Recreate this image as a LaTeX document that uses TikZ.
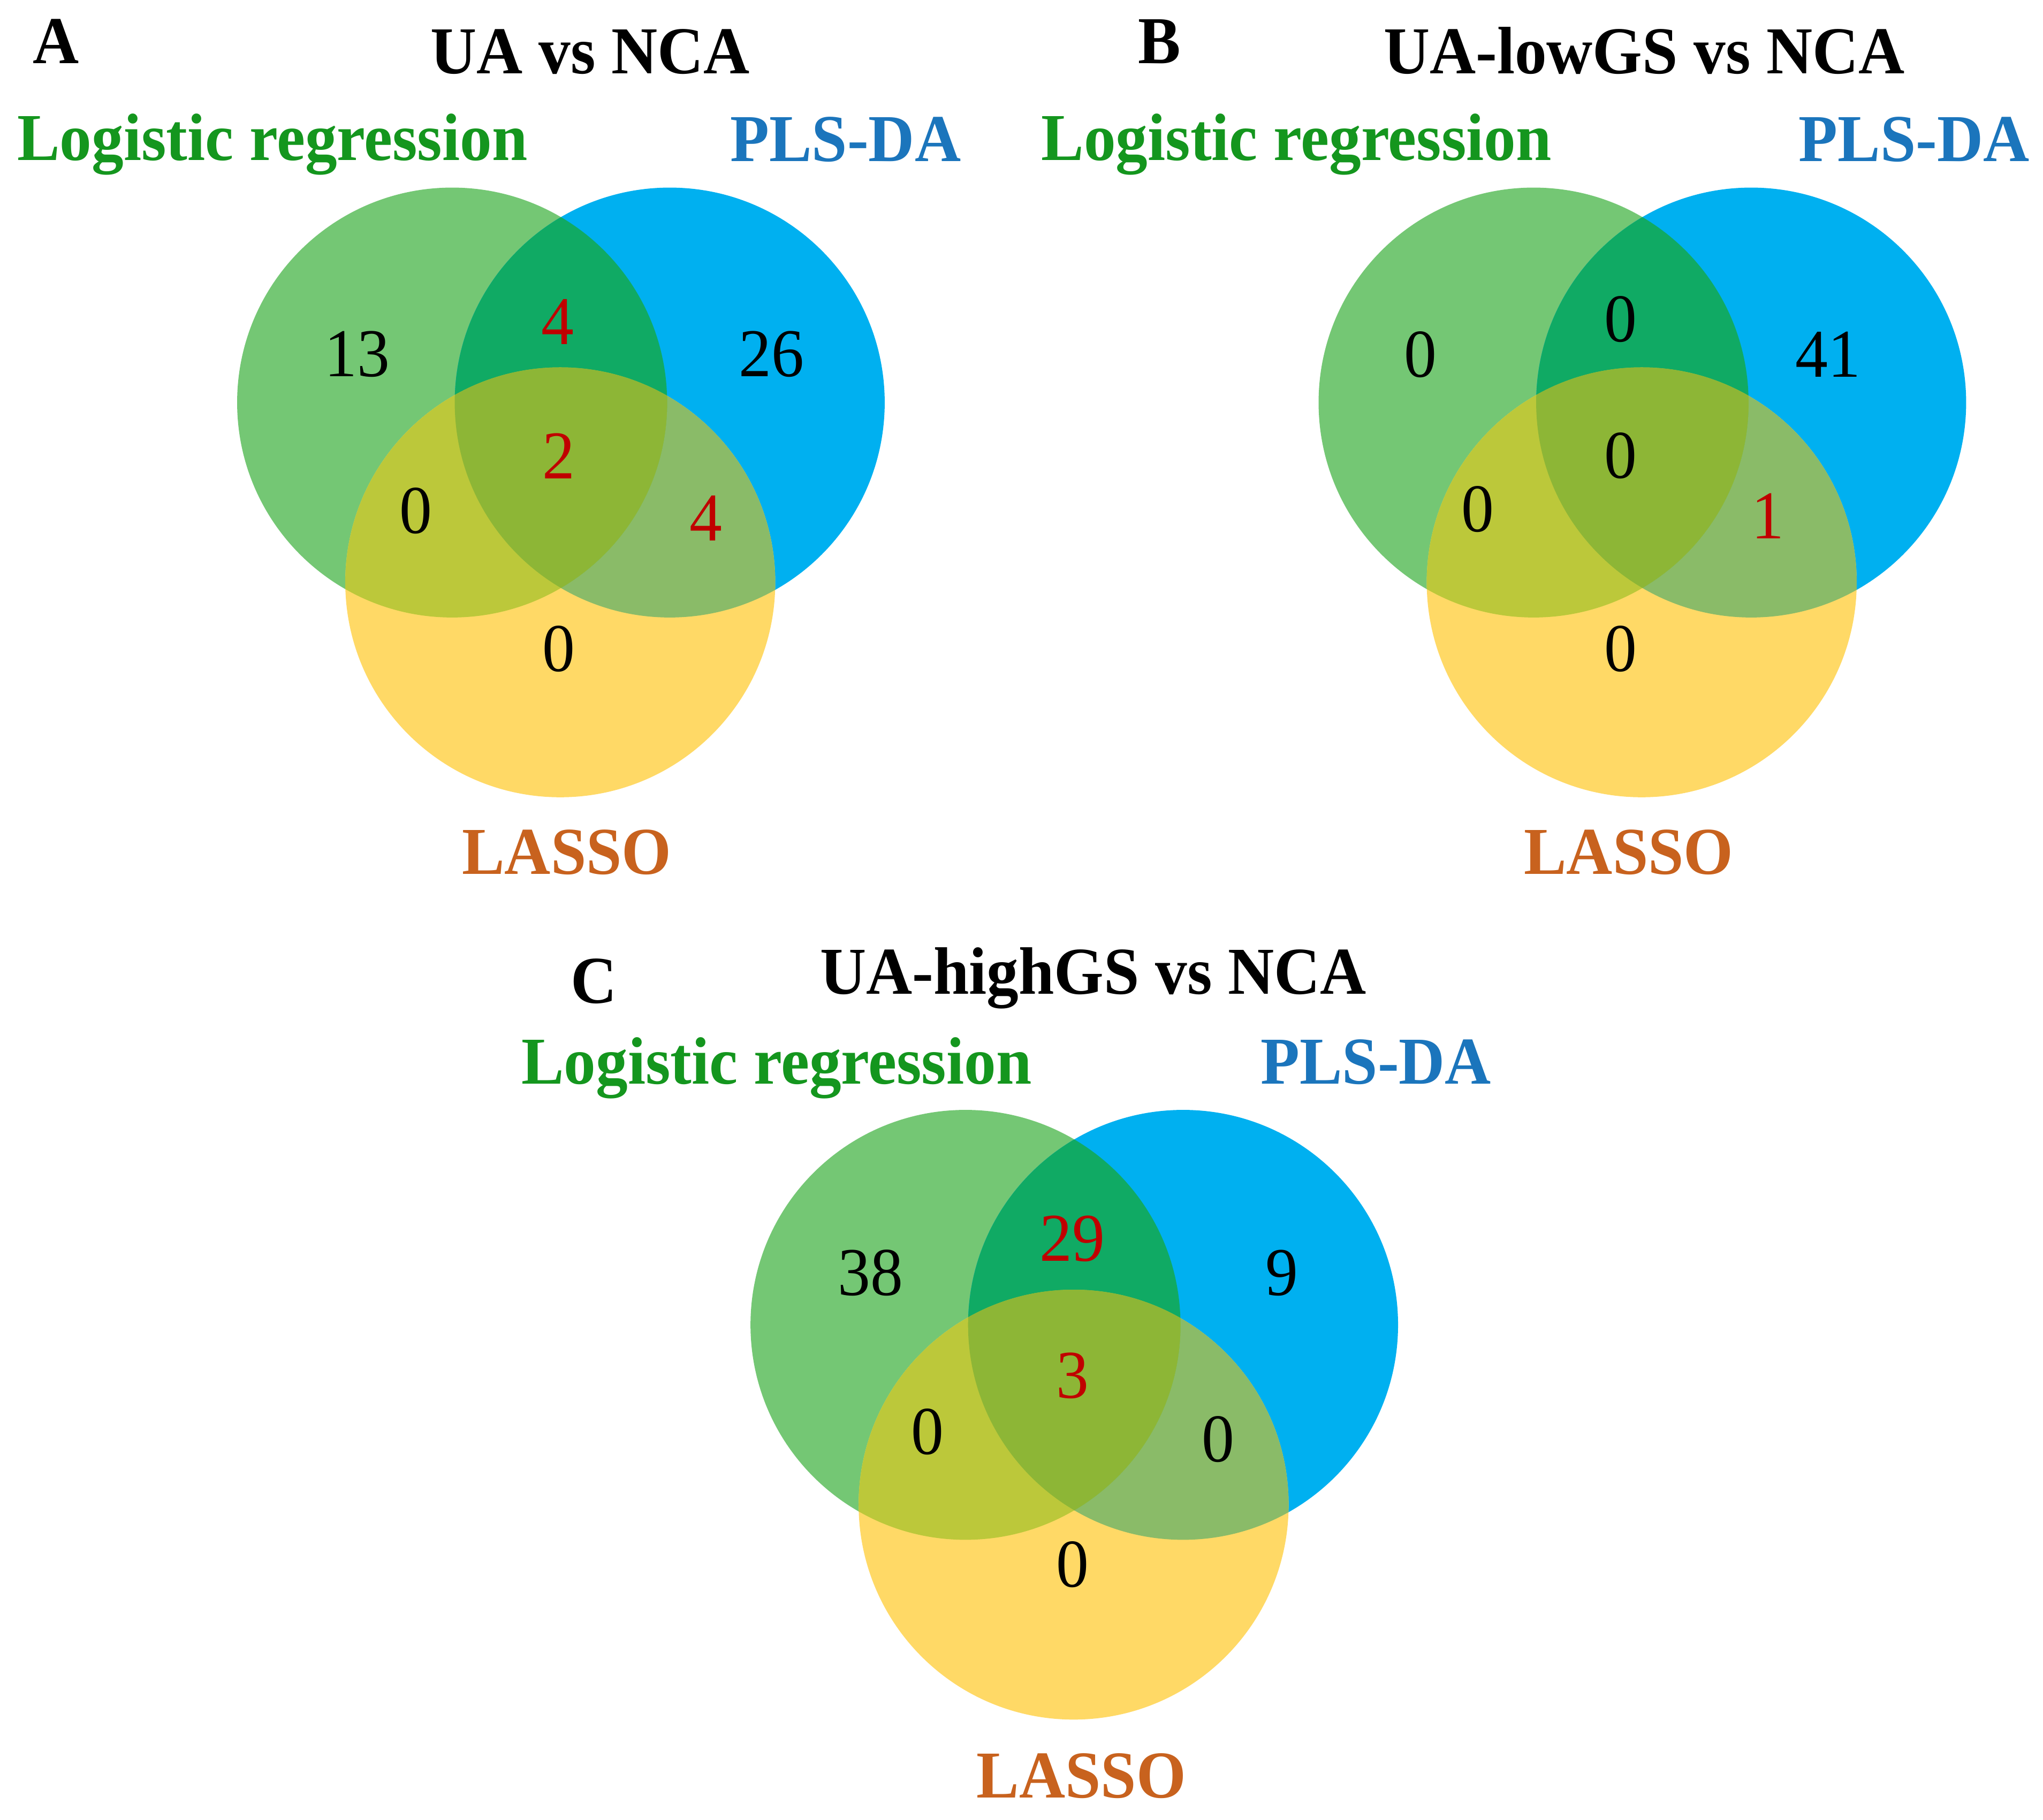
\documentclass[tikz,border=0pt]{standalone}
\usepackage{fontspec}
\setmainfont{Liberation Serif}
\definecolor{cG}{HTML}{74C774}
\definecolor{cB}{HTML}{00B0F0}
\definecolor{cY}{HTML}{FFD966}
\definecolor{cGB}{HTML}{10AA64}
\definecolor{cGY}{HTML}{BCC83A}
\definecolor{cBY}{HTML}{8ABB68}
\definecolor{cGBY}{HTML}{8DB636}
\definecolor{cRed}{HTML}{C00000}
\definecolor{cLR}{HTML}{14961E}
\definecolor{cPLS}{HTML}{1B75BC}
\definecolor{cLAS}{HTML}{C8621E}
\newcommand{\myvenn}[3]{%
  \fill[cG] (#1) circle[radius=82.5pt];
  \fill[cB] (#2) circle[radius=82.5pt];
  \fill[cY] (#3) circle[radius=82.5pt];
  \begin{scope}
    \clip (#2) circle[radius=82.5pt];
    \fill[cBY] (#3) circle[radius=82.5pt];
  \end{scope}
  \begin{scope}
    \clip (#1) circle[radius=82.5pt];
    \fill[cGB] (#2) circle[radius=82.5pt];
    \fill[cGY] (#3) circle[radius=82.5pt];
    \clip (#2) circle[radius=82.5pt];
    \fill[cGBY] (#3) circle[radius=82.5pt];
  \end{scope}}
\tikzset{
  bold/.style={font=\bfseries\fontsize{24.5}{28}\selectfont, anchor=base, inner sep=0pt, yscale=1.05},
  letter/.style={bold},
  ttl/.style={bold},
  lrlab/.style={bold, text=cLR},
  plslab/.style={bold, text=cPLS},
  laslab/.style={bold, text=cLAS},
  num/.style={font=\fontsize{25}{30}\selectfont, inner sep=0pt, anchor=center, yscale=1.05},
  numr/.style={num, text=cRed}
}
\begin{document}
\begin{tikzpicture}[x=0.5pt,y=-0.5pt]
\useasboundingbox (0,0) rectangle (1568,1397);
\fill[white] (0,0) rectangle (1568,1397);

% ---------- Panel A ----------
\myvenn{347,309}{514,309}{430,447}
\node[letter] (Alet) at (43,48.5) {A};
\node[ttl] (Attl) at (453,56.5) {UA vs NCA};
\node[lrlab] (Alr) at (209,123) {Logistic regression};
\node[plslab] (Apls) at (649,124) {PLS-DA};
\node[laslab] (Alas) at (435,671) {LASSO};
\node[num] (An1) at (274,272) {13};
\node[numr] (An2) at (428,247) {4};
\node[num] (An3) at (592,272) {26};
\node[numr] (An4) at (429,350) {2};
\node[num] (An5) at (319,392) {0};
\node[numr] (An6) at (542,398) {4};
\node[num] (An7) at (429,498) {0};

% ---------- Panel B ----------
\myvenn{1177,309}{1344,309}{1260,447}
\node[letter] (Blet) at (890,48.5) {B};
\node[ttl] (Bttl) at (1262,56.5) {UA-lowGS vs NCA};
\node[lrlab] (Blr) at (995,123) {Logistic regression};
\node[plslab] (Bpls) at (1469,124) {PLS-DA};
\node[laslab] (Blas) at (1250,671) {LASSO};
\node[num] (Bn1) at (1090,272) {0};
\node[num] (Bn2) at (1244,245) {0};
\node[num] (Bn3) at (1403,272) {41};
\node[num] (Bn4) at (1244,350) {0};
\node[num] (Bn5) at (1134,391) {0};
\node[numr] (Bn6) at (1357,396) {1};
\node[num] (Bn7) at (1244,498) {0};

% ---------- Panel C ----------
\myvenn{741,1017}{908,1017}{824,1155}
\node[letter] (Clet) at (456,770) {C};
\node[ttl] (Cttl) at (839,763) {UA-highGS vs NCA};
\node[lrlab] (Clr) at (596,832) {Logistic regression};
\node[plslab] (Cpls) at (1056,832) {PLS-DA};
\node[laslab] (Clas) at (830,1380) {LASSO};
\node[num] (Cn1) at (668,977) {38};
\node[numr] (Cn2) at (823,951) {29};
\node[num] (Cn3) at (984,977) {9};
\node[numr] (Cn4) at (823,1056) {3};
\node[num] (Cn5) at (712,1099) {0};
\node[num] (Cn6) at (935,1105) {0};
\node[num] (Cn7) at (823,1201) {0};
\end{tikzpicture}
\end{document}
